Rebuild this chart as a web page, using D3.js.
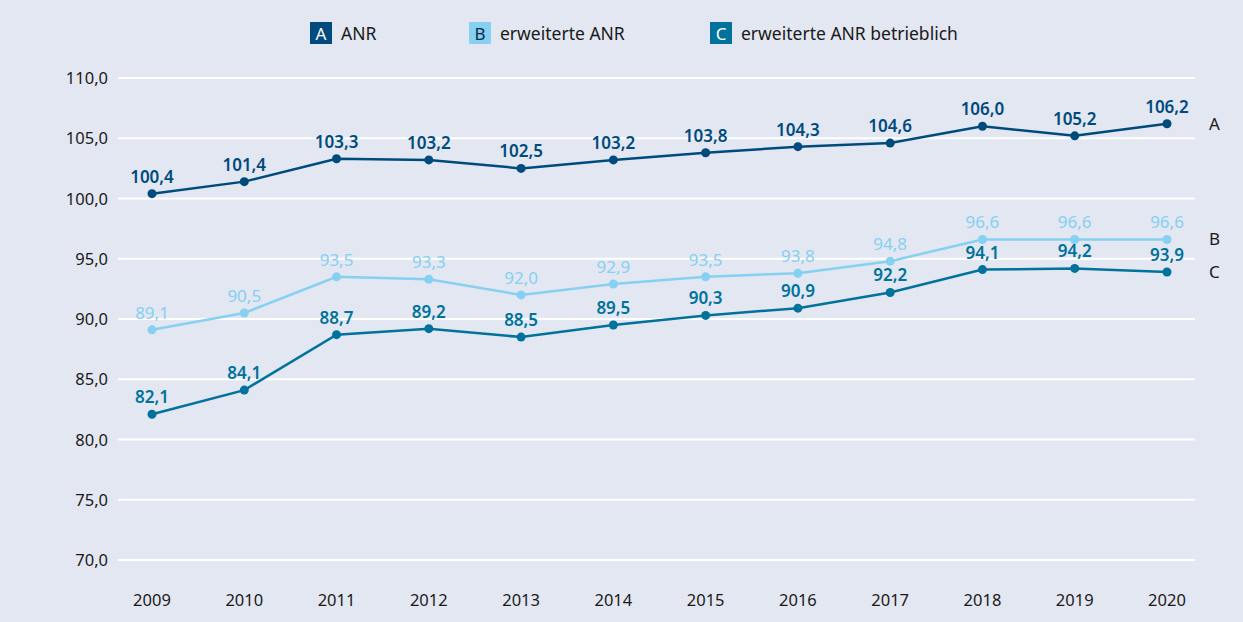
<!DOCTYPE html>
<html>
<head>
<meta charset="utf-8">
<script src="https://cdn.jsdelivr.net/npm/d3@7"></script>
<style>
  body { margin: 0; background: #e3e7f1; }
  svg { display: block; font-family: "Noto Sans", sans-serif; }
</style>
</head>
<body>
<div id="main"></div>
<script>
const years = ["2009","2010","2011","2012","2013","2014","2015","2016","2017","2018","2019","2020"];
const anr = [100.4,101.4,103.3,103.2,102.5,103.2,103.8,104.3,104.6,106.0,105.2,106.2];
const erwAnr = [89.1,90.5,93.5,93.3,92.0,92.9,93.5,93.8,94.8,96.6,96.6,96.6];
const erwAnrBetr = [82.1,84.1,88.7,89.2,88.5,89.5,90.3,90.9,92.2,94.1,94.2,93.9];
const yTicks = [70,75,80,85,90,95,100,105,110];

const width = 1243, height = 622;

const series = [
  {key: "A", name: "ANR", values: anr, color: "#004b7d", boxText: "#fff"},
  {key: "B", name: "erweiterte ANR", values: erwAnr, color: "#86d0f2", boxText: "#0b2a4a"},
  {key: "C", name: "erweiterte ANR betrieblich", values: erwAnrBetr, color: "#00729c", boxText: "#fff"}
];

const svg = d3.select("#main").append("svg")
  .attr("width", width)
  .attr("height", height);

svg.append("rect").attr("width", width).attr("height", height).attr("fill", "#e3e7f1");

const x = d3.scalePoint().domain(years).range([152, 1167]);
const y = d3.scaleLinear().domain([70, 110]).range([560, 78]);
const fmt = v => d3.format(".1f")(v).replace(".", ",");

// gridlines
svg.append("g")
  .selectAll("line")
  .data(yTicks)
  .join("line")
  .attr("x1", 118).attr("x2", 1195)
  .attr("y1", d => y(d)).attr("y2", d => y(d))
  .attr("stroke", "#fff")
  .attr("stroke-width", 2);

// y labels
svg.append("g")
  .selectAll("text")
  .data(yTicks)
  .join("text")
  .attr("x", 108)
  .attr("y", d => y(d) + 6)
  .attr("text-anchor", "end")
  .attr("font-size", 16.5)
  .attr("fill", "#1a1a1a")
  .text(d => fmt(d));

// x labels
svg.append("g")
  .selectAll("text")
  .data(years)
  .join("text")
  .attr("x", d => x(d))
  .attr("y", 606)
  .attr("text-anchor", "middle")
  .attr("font-size", 16.5)
  .attr("fill", "#1a1a1a")
  .text(d => d);

const line = d3.line()
  .x((d, i) => x(years[i]))
  .y(d => y(d));

series.forEach(s => {
  const g = svg.append("g");
  g.append("path")
    .attr("d", line(s.values))
    .attr("fill", "none")
    .attr("stroke", s.color)
    .attr("stroke-width", 2.5);
  g.selectAll("circle")
    .data(s.values)
    .join("circle")
    .attr("cx", (d, i) => x(years[i]))
    .attr("cy", d => y(d))
    .attr("r", 4.5)
    .attr("fill", s.color);
  g.selectAll("text")
    .data(s.values)
    .join("text")
    .attr("x", (d, i) => x(years[i]))
    .attr("y", d => y(d) - 11)
    .attr("text-anchor", "middle")
    .attr("font-size", 17)
    .attr("font-weight", s.key === "B" ? 400 : 600)
    .attr("fill", s.color)
    .text(d => fmt(d));
  // end letter
  svg.append("text")
    .attr("x", 1209)
    .attr("y", y(s.values[s.values.length - 1]) + 6)
    .attr("font-size", 17)
    .attr("fill", "#1a1a1a")
    .text(s.key);
});

// legend
const legendX = [310, 469, 710];
const legend = svg.append("g");
series.forEach((s, i) => {
  const lg = legend.append("g").attr("transform", `translate(${legendX[i]},22)`);
  lg.append("rect").attr("width", 22).attr("height", 22).attr("fill", s.color);
  lg.append("text").attr("x", 11).attr("y", 17.5).attr("text-anchor", "middle")
    .attr("font-size", 17).attr("fill", s.boxText).text(s.key);
  lg.append("text").attr("x", 31).attr("y", 17.5).attr("font-size", 17.5)
    .attr("fill", "#1a1a1a").text(s.name);
});
</script>
</body>
</html>
